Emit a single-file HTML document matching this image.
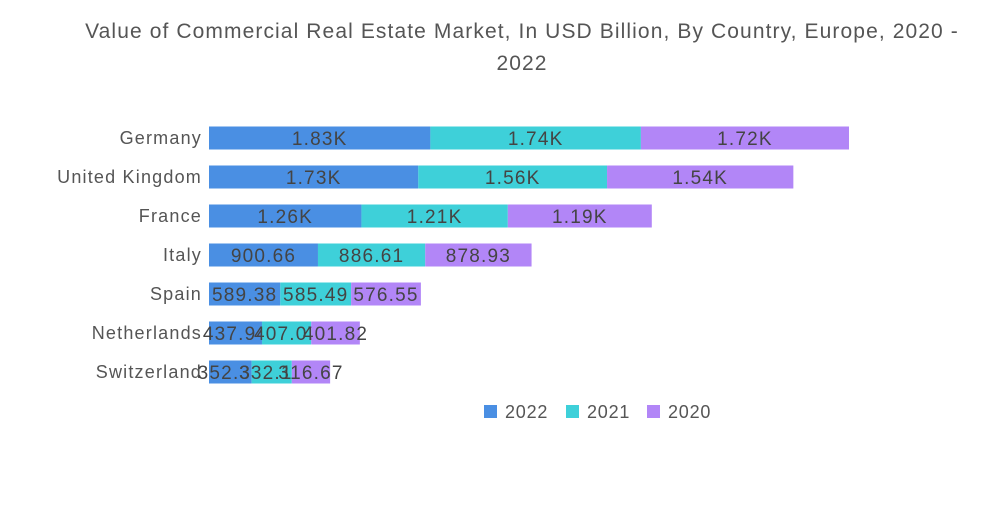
<!DOCTYPE html>
<html><head><meta charset="utf-8"><style>
body{margin:0;background:#fff;font-family:"Liberation Sans",sans-serif;}
</style></head><body>
<svg id="c" width="1000" height="504" xmlns="http://www.w3.org/2000/svg">
<text x="522" y="38" text-anchor="middle" font-size="21" letter-spacing="1.1" fill="#555">Value of Commercial Real Estate Market, In USD Billion, By Country, Europe, 2020 -</text>
<text x="522" y="70" text-anchor="middle" font-size="21" letter-spacing="1.1" fill="#555">2022</text>
<g id="bars"></g>
<g id="legend"></g>
</svg>
<script>
const categories=["Germany","United Kingdom","France","Italy","Spain","Netherlands","Switzerland"];
const series=["2022","2021","2020"];
const v2022=[1830,1730,1260,900.66,589.38,437.94,352.33];
const v2021=[1740,1560,1210,886.61,585.49,407.07,332.19];
const v2020=[1720,1540,1190,878.93,576.55,401.82,316.67];
const labels2022=["1.83K","1.73K","1.26K","900.66","589.38","437.94","352.33"];
const labels2021=["1.74K","1.56K","1.21K","886.61","585.49","407.07","332.19"];
const labels2020=["1.72K","1.54K","1.19K","878.93","576.55","401.82","316.67"];
const colors=["#4a8fe3","#3ed0d9","#b286f7"];
const NS="http://www.w3.org/2000/svg";
const x0=209,scale=640/5290;
const xs=v=>v*scale;
const yc=i=>138+i*39;
const g=document.getElementById('bars');
const vals=[v2022,v2021,v2020],labs=[labels2022,labels2021,labels2020];
categories.forEach((c,i)=>{
  const t=document.createElementNS(NS,'text');
  t.setAttribute('x',202);t.setAttribute('y',yc(i)+6);t.setAttribute('text-anchor','end');
  t.setAttribute('font-size','18');t.setAttribute('letter-spacing','1.2');t.setAttribute('fill','#555');t.textContent=c;
  
  
  g.appendChild(t);
  let x=x0;
  vals.forEach((arr,s)=>{
    const w=xs(arr[i]);
    const r=document.createElementNS(NS,'rect');
    r.setAttribute('x',x);r.setAttribute('y',yc(i)-11.5);r.setAttribute('width',w);r.setAttribute('height',23);
    r.setAttribute('fill',colors[s]);
    
    
    g.appendChild(r);
    const l=document.createElementNS(NS,'text');
    l.setAttribute('x',x+w/2);l.setAttribute('y',yc(i)+7);l.setAttribute('text-anchor','middle');
    l.setAttribute('font-size','19');l.setAttribute('letter-spacing','1.2');l.setAttribute('fill','#444');l.textContent=labs[s][i];
    
    
    g.appendChild(l);
    x+=w;
  });
});
const lg=document.getElementById('legend');
const lx=[484,566,647];
series.forEach((s,k)=>{
  const r=document.createElementNS(NS,'rect');
  r.setAttribute('x',lx[k]);r.setAttribute('y',405);r.setAttribute('width',13);r.setAttribute('height',13);
  r.setAttribute('fill',colors[k]);
  
  
  lg.appendChild(r);
  const t=document.createElementNS(NS,'text');
  t.setAttribute('x',lx[k]+21);t.setAttribute('y',418);t.setAttribute('font-size','18');t.setAttribute('letter-spacing','0.8');t.setAttribute('fill','#555');
  t.textContent=s;
  
  
  lg.appendChild(t);
});
</script>
</body></html>
